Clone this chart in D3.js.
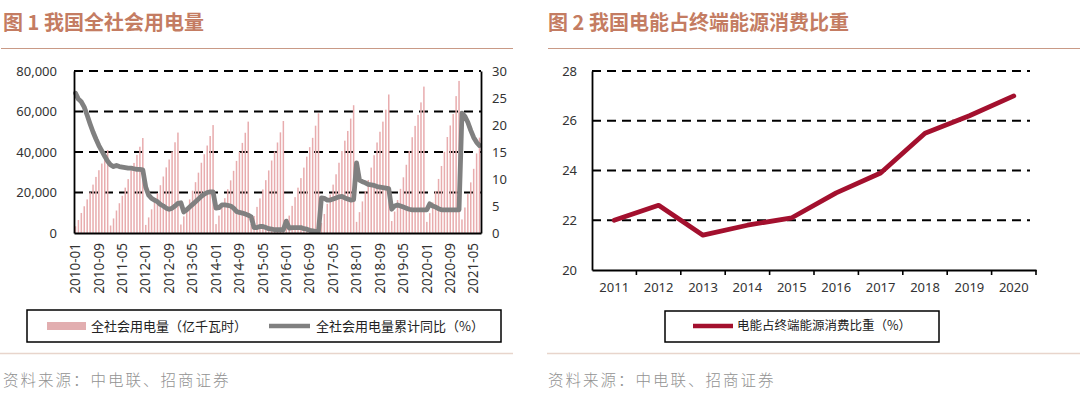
<!DOCTYPE html>
<html>
<head>
<meta charset="utf-8">
<script src="https://cdn.jsdelivr.net/npm/d3@7"></script>
<style>
body { margin: 0; background: #fff; }
svg { display: block; font-family: "Noto Sans", "Noto Sans CJK SC", sans-serif; }
</style>
</head>
<body>
<svg width="1080" height="397"></svg>
<script>
// ---- data, figure 1 ----
var startYear = 2010, monthCount = 139; // 2010-01 .. 2021-07
var powerUse = [ // cumulative, 亿千瓦时
	3300, 6400, 9900, 13200, 16600, 20100, 23900, 27700, 31000, 34300, 37700, 41000,
	3700, 7200, 11100, 14700, 18400, 22400, 26600, 31000, 34600, 38600, 42600, 46900,
	4000, 7700, 11700, 15500, 19600, 23600, 27900, 32400, 36300, 40300, 44800, 49600,
	4200, 8200, 12500, 16600, 20900, 25100, 29800, 34700, 38900, 43200, 47900, 53300,
	4400, 8600, 13000, 17200, 21600, 26000, 30700, 35600, 40100, 44500, 49500, 55000,
	4500, 8400, 12900, 17100, 21500, 26100, 30900, 35800, 40300, 44700, 49700, 55300,
	4600, 8600, 13400, 17700, 22400, 27100, 32300, 37700, 42400, 47000, 53000, 59100,
	5000, 9400, 14400, 19000, 23900, 29000, 34700, 40500, 45600, 50400, 56500, 63100,
	5500, 10300, 15600, 20700, 26200, 32300, 38400, 44700, 50000, 55000, 60900, 68400,
	5900, 10600, 16300, 21800, 27500, 33700, 40500, 47300, 52900, 58300, 64500, 72300,
	5500, 9800, 15100, 20700, 26700, 33100, 40100, 47400, 53100, 58800, 67600, 75100,
	6700, 12600, 19200, 25000, 31700, 39300, 47100
];
var powerYoY = [ // cumulative yoy, %
	25.9, 24.8, 24.3, 23.3, 21.8, 20.2, 18.7, 17.4, 16.2, 15.2, 14.2, 13.3,
	12.6, 12.3, 12.5, 12.3, 12.2, 12.1, 12.0, 12.0, 11.9, 11.8, 11.8, 11.7,
	8.5, 7.0, 6.4, 6.1, 5.8, 5.3, 5.0, 4.6, 4.4, 4.6, 5.0, 5.5,
	5.6, 3.9, 4.3, 4.8, 5.3, 5.8, 6.3, 6.8, 7.2, 7.5, 7.6, 7.6,
	4.6, 4.7, 5.2, 5.2, 5.1, 5.0, 4.6, 4.0, 3.8, 3.7, 3.5, 3.3,
	3.0, 1.0, 1.0, 1.2, 1.2, 1.0, 0.8, 0.7, 0.6, 0.6, 0.6, 0.6,
	2.2, 0.9, 1.0, 1.0, 1.0, 1.0, 0.8, 0.7, 0.5, 0.4, 0.3, 0.3,
	6.5, 6.4, 6.1, 6.1, 6.3, 6.5, 6.7, 6.8, 6.5, 6.3, 6.1, 6.2,
	13.0, 9.8, 9.5, 9.3, 9.0, 8.9, 8.8, 8.6, 8.5, 8.4, 8.3, 8.2,
	4.4, 5.0, 5.2, 5.0, 4.8, 4.6, 4.4, 4.3, 4.3, 4.3, 4.3, 4.3,
	4.3, 5.4, 5.0, 4.8, 4.5, 4.3, 4.3, 4.3, 4.3, 4.3, 4.3, 4.3,
	22.2, 21.6, 20.5, 19.0, 17.7, 16.8, 16.2
];
var useTicks = [0, 20000, 40000, 60000, 80000];
var yoyTicks = [0, 5, 10, 15, 20, 25, 30];

// ---- data, figure 2 ----
var shareYears = ["2011", "2012", "2013", "2014", "2015", "2016", "2017", "2018", "2019", "2020"];
var shareValues = [22.0, 22.6, 21.4, 21.8, 22.1, 23.1, 23.9, 25.5, 26.2, 27.0];
var shareTicks = [20, 22, 24, 26, 28];

var months = [];
for (var i = 0; i < monthCount; i++) {
	var yy = startYear + Math.floor(i / 12), mm = i % 12 + 1;
	months.push(yy + "-" + (mm < 10 ? "0" : "") + mm);
}

var svg = d3.select("svg");
var titleColor = "#c47c62";
var dash = "9,6";

// titles + rules
svg.append("text").attr("x", 3).attr("y", 30).text("图 1 我国全社会用电量")
	.attr("font-family", "Noto Sans CJK SC").attr("font-weight", "bold")
	.attr("font-size", 20).attr("fill", titleColor);
svg.append("text").attr("x", 548).attr("y", 30).text("图 2 我国电能占终端能源消费比重")
	.attr("font-family", "Noto Sans CJK SC").attr("font-weight", "bold")
	.attr("font-size", 20).attr("fill", titleColor);
[[1, 513], [548, 1080]].forEach(function(r) {
	svg.append("line").attr("x1", r[0]).attr("x2", r[1]).attr("y1", 48.5).attr("y2", 48.5)
		.attr("stroke", "#c99a86").attr("stroke-width", 1.2);
	svg.append("line").attr("x1", r[0] - 1).attr("x2", r[1]).attr("y1", 353.5).attr("y2", 353.5)
		.attr("stroke", "#e8d5cc").attr("stroke-width", 1.5);
});
svg.append("text").attr("x", 3).attr("y", 386).text("资料来源：中电联、招商证券")
	.attr("font-family", "Noto Sans CJK SC").attr("font-weight", 300)
	.attr("font-size", 15.5).attr("letter-spacing", 2).attr("fill", "#929292");
svg.append("text").attr("x", 548).attr("y", 386).text("资料来源：中电联、招商证券")
	.attr("font-family", "Noto Sans CJK SC").attr("font-weight", 300)
	.attr("font-size", 15.5).attr("letter-spacing", 2).attr("fill", "#929292");

// ================= figure 1 =================
var L = {left: 74, right: 481, top: 71, bottom: 233};
var x1 = d3.scaleBand().domain(months).range([L.left, L.right]);
var y1 = d3.scaleLinear().domain([0, 80000]).range([L.bottom, L.top]);
var y1r = d3.scaleLinear().domain([0, 30]).range([L.bottom, L.top]);
var bw = x1.bandwidth();

svg.append("g").selectAll("line").data(useTicks.slice(1)).enter().append("line")
	.attr("x1", L.left).attr("x2", L.right)
	.attr("y1", function(d) { return y1(d); }).attr("y2", function(d) { return y1(d); })
	.attr("stroke", "#000").attr("stroke-width", 1.8).attr("stroke-dasharray", dash);

svg.append("g").selectAll("rect").data(powerUse).enter().append("rect")
	.attr("x", function(d, i) { return x1(months[i]) + (bw - 1.5) / 2; })
	.attr("width", 1.5)
	.attr("y", function(d) { return y1(d); })
	.attr("height", function(d) { return L.bottom - y1(d); })
	.attr("fill", "#e8acae");

var yoyLine = d3.line()
	.x(function(d, i) { return x1(months[i]) + bw / 2; })
	.y(function(d) { return y1r(d); });
svg.append("path").datum(powerYoY).attr("d", yoyLine)
	.attr("fill", "none").attr("stroke", "#808080").attr("stroke-width", 4.8)
	.attr("stroke-linejoin", "round").attr("stroke-linecap", "round");

var axL = svg.append("g").attr("transform", "translate(" + L.left + ",0)")
	.call(d3.axisLeft(y1).tickValues(useTicks).tickFormat(d3.format(",")).tickSize(0).tickPadding(17));
var axR = svg.append("g").attr("transform", "translate(" + L.right + ",0)")
	.call(d3.axisRight(y1r).tickValues(yoyTicks).tickSize(0).tickPadding(11));
var axB = svg.append("g").attr("transform", "translate(0," + L.bottom + ")")
	.call(d3.axisBottom(x1).tickValues(months.filter(function(d, i) { return i % 8 == 0; })).tickSize(0));
axB.selectAll("text").attr("transform", "rotate(-90)").attr("text-anchor", "end")
	.attr("x", -10).attr("y", 0).attr("dy", "0.35em");
[axL, axR, axB].forEach(function(a) {
	a.select(".domain").attr("stroke", "#000").attr("stroke-width", 1.8);
	a.selectAll("text").attr("font-size", 13).attr("fill", "#333")
		.attr("font-family", "Noto Sans");
});
axB.selectAll("text").attr("font-size", 13.5);

// legend 1
svg.append("rect").attr("x", 27).attr("y", 310).attr("width", 474).attr("height", 32)
	.attr("fill", "none").attr("stroke", "#000").attr("stroke-width", 1.5);
svg.append("rect").attr("x", 47).attr("y", 322).attr("width", 39).attr("height", 8).attr("fill", "#e2aeb0");
svg.append("text").attr("x", 91).attr("y", 326).attr("dy", "0.35em").text("全社会用电量（亿千瓦时）")
	.attr("font-family", "Noto Sans CJK SC").attr("font-size", 13).attr("fill", "#222");
svg.append("line").attr("x1", 269).attr("x2", 310).attr("y1", 326).attr("y2", 326)
	.attr("stroke", "#808080").attr("stroke-width", 4.5);
svg.append("text").attr("x", 316).attr("y", 326).attr("dy", "0.35em").text("全社会用电量累计同比（%）")
	.attr("font-family", "Noto Sans CJK SC").attr("font-size", 13).attr("fill", "#222");

// ================= figure 2 =================
var R = {left: 592, right: 1036, top: 71, bottom: 270};
var x2 = d3.scaleBand().domain(shareYears).range([R.left, R.right]);
var y2 = d3.scaleLinear().domain([20, 28]).range([R.bottom, R.top]);

svg.append("g").selectAll("line").data(shareTicks.slice(1)).enter().append("line")
	.attr("x1", R.left).attr("x2", R.right - 6)
	.attr("y1", function(d) { return y2(d); }).attr("y2", function(d) { return y2(d); })
	.attr("stroke", "#000").attr("stroke-width", 1.8).attr("stroke-dasharray", dash);

var ax2L = svg.append("g").attr("transform", "translate(" + R.left + ",0)")
	.call(d3.axisLeft(y2).tickValues(shareTicks).tickSize(0).tickPadding(15));
var ax2B = svg.append("g").attr("transform", "translate(0," + R.bottom + ")")
	.call(d3.axisBottom(x2).tickSize(0).tickPadding(13));
[ax2L, ax2B].forEach(function(a) {
	a.select(".domain").attr("stroke", "#000").attr("stroke-width", 1.8);
	a.selectAll("text").attr("font-size", 13).attr("fill", "#333").attr("font-family", "Noto Sans");
});
// tick marks between the years
svg.append("g").selectAll("line").data(shareYears.slice(1).concat(["end"])).enter().append("line")
	.attr("x1", function(d) { return d == "end" ? R.right : x2(d); })
	.attr("x2", function(d) { return d == "end" ? R.right : x2(d); })
	.attr("y1", R.bottom).attr("y2", R.bottom + 5)
	.attr("stroke", "#000").attr("stroke-width", 1.6);

var shareLine = d3.line()
	.x(function(d, i) { return x2(shareYears[i]) + x2.bandwidth() / 2; })
	.y(function(d) { return y2(d); });
svg.append("path").datum(shareValues).attr("d", shareLine)
	.attr("fill", "none").attr("stroke", "#a3102e").attr("stroke-width", 4.8)
	.attr("stroke-linejoin", "round").attr("stroke-linecap", "round");

// legend 2
svg.append("rect").attr("x", 665).attr("y", 311).attr("width", 274).attr("height", 31)
	.attr("fill", "none").attr("stroke", "#000").attr("stroke-width", 1.5);
svg.append("line").attr("x1", 693).attr("x2", 733).attr("y1", 326).attr("y2", 326)
	.attr("stroke", "#a3102e").attr("stroke-width", 4.5);
svg.append("text").attr("x", 737).attr("y", 326).attr("dy", "0.35em").text("电能占终端能源消费比重（%）")
	.attr("font-family", "Noto Sans CJK SC").attr("font-size", 12.5).attr("fill", "#222");
</script>
</body>
</html>
